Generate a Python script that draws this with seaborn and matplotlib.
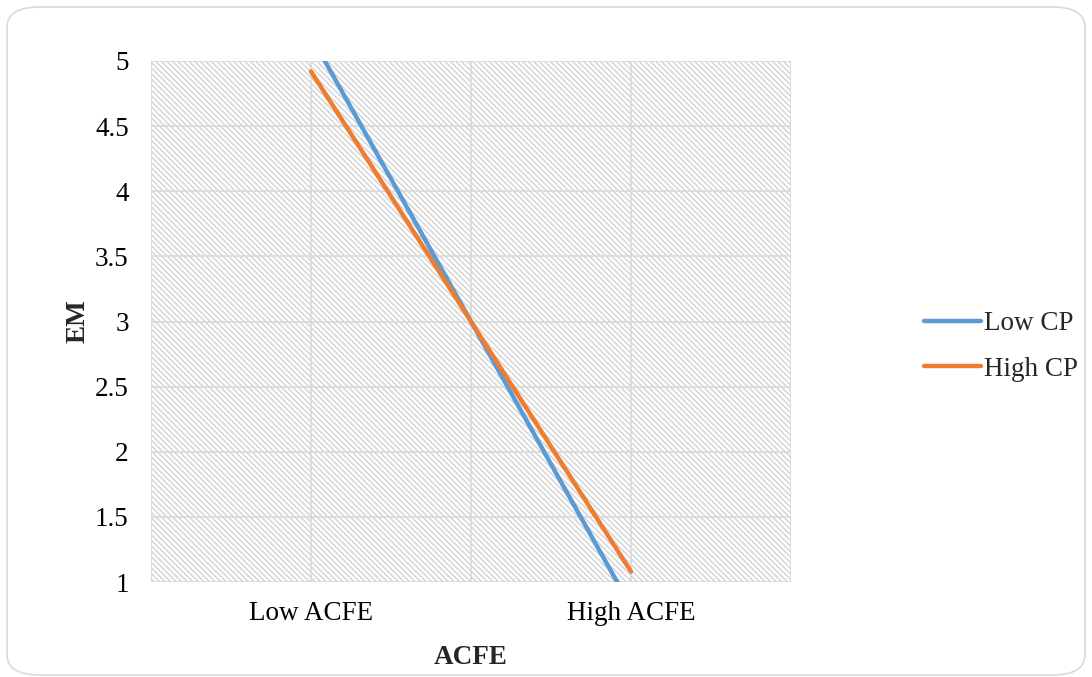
import matplotlib
matplotlib.use("Agg")
import matplotlib.pyplot as plt
from matplotlib.patches import Rectangle, FancyBboxPatch
import seaborn as sns
import pandas as pd

categories = ["Low ACFE", "High ACFE"]
low_cp = [5.19, 0.81]
high_cp = [4.92, 1.08]
series_names = ["Low CP", "High CP"]
y_ticks = [1, 1.5, 2, 2.5, 3, 3.5, 4, 4.5, 5]

df = pd.DataFrame({
    "ACFE": list(range(len(categories))) * 2,
    "EM": low_cp + high_cp,
    "Series": [series_names[0]] * len(categories) + [series_names[1]] * len(categories),
})

sns.set_theme(style="white")
plt.rcParams["font.family"] = ["Liberation Serif", "DejaVu Serif"]
plt.rcParams["hatch.linewidth"] = 1.1
plt.rcParams["hatch.color"] = "#d6d6d6"

fig = plt.figure(figsize=(10.92, 6.77), dpi=100)
ax = fig.add_axes([151 / 1092, 1 - 582 / 677, 640 / 1092, 521 / 677])

# hatched background
ax.add_patch(Rectangle((0, 0), 1, 1, transform=ax.transAxes, facecolor="white",
                       edgecolor="#d6d6d6", hatch="\\" * 6, linewidth=0, zorder=0))

sns.lineplot(data=df, x="ACFE", y="EM", hue="Series",
             palette=["#5B9BD5", "#ED7D31"], linewidth=3.2, ax=ax, zorder=3,
             legend=True)

ax.set_xlim(-0.5, 1.5)
ax.set_ylim(1, 5)
ax.set_yticks(y_ticks)
ax.set_yticklabels([f"{v:g}" for v in y_ticks])
ax.set_xticks(range(len(categories)))
ax.set_xticklabels(categories)
for x in [-0.5, 0, 0.5, 1, 1.5]:
    ax.axvline(x, color="#d9d9d9", lw=1.2, zorder=1)
for y in y_ticks:
    ax.axhline(y, color="#d9d9d9", lw=1.2, zorder=1)
for s in ax.spines.values():
    s.set_visible(False)
ax.tick_params(axis="both", length=0, labelsize=19.5, colors="black")
ax.tick_params(axis="y", pad=16)
ax.tick_params(axis="x", pad=14)
ax.set_xlabel("ACFE", fontsize=19.5, fontweight="bold", labelpad=13)
ax.set_ylabel("EM", fontsize=19.5, fontweight="bold", labelpad=3)

leg = ax.legend(loc="center left", bbox_to_anchor=(1.17, 0.452), frameon=False,
                fontsize=19.5, handlelength=2.1, handletextpad=0.1, labelspacing=0.75)

fig.patches.append(FancyBboxPatch((7 / 1092, 2 / 677), 1078 / 1092, 668 / 677,
                                  boxstyle="round,pad=0,rounding_size=0.03",
                                  transform=fig.transFigure, facecolor="none",
                                  edgecolor="#d9d9d9", linewidth=1.2, zorder=10))

fig.savefig("out.png", dpi=100)
